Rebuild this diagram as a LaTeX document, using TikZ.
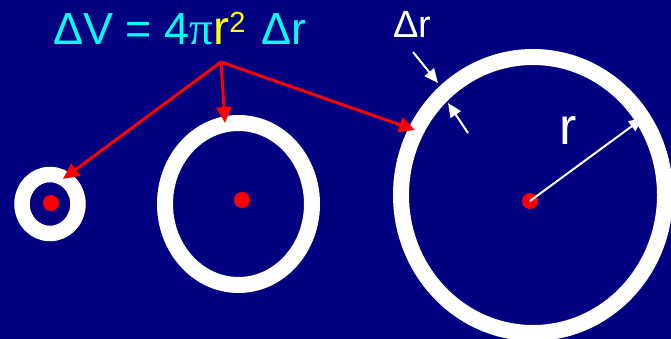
\documentclass[tikz,border=0pt]{standalone}
\usepackage{fontspec}
\setmainfont{Liberation Sans}
\newfontfamily\pifont{Liberation Serif}
\usetikzlibrary{arrows.meta}
\definecolor{bgnavy}{RGB}{0,0,128}
\definecolor{eqcyan}{RGB}{0,255,255}
\definecolor{eqyellow}{RGB}{255,255,0}
\definecolor{ptred}{RGB}{255,0,0}
\tikzset{
  ring/.style={draw=white, line width=16pt},
  centerdot/.style={fill=ptred},
  redarrow/.style={draw=ptred, line width=3pt, -{Triangle[length=16pt,width=15pt]}},
  whitearrow/.style={draw=white, line width=2pt, -{Triangle[length=14pt,width=12pt]}},
  lbl/.style={inner sep=0pt, text=white, anchor=base west},
}
\begin{document}
\begin{tikzpicture}[x=1pt,y=-1pt]
\useasboundingbox (0,0) rectangle (671,339);
\fill[bgnavy] (0,0) rectangle (671,339);
\clip (0,0) rectangle (671,339);
% rings
\draw[ring, line width=15.5pt] (50,204) ellipse [x radius=28, y radius=29.5];
\draw[ring] (238.5,204) ellipse [x radius=73.5, y radius=81];
\draw[ring] (533,195) ellipse [x radius=132, y radius=138];
% centre dots
\fill[centerdot] (51,203) circle (8);
\fill[centerdot] (242,200) circle (8);
\coordinate (c3) at (530,201);
\fill[centerdot] (c3) circle (8);
% equation
\node[lbl, text=eqcyan] (eq) at (53,45) {\fontsize{45}{50}\selectfont ΔV = 4{\pifont\fontsize{47}{50}\selectfont π}\textcolor{eqyellow}{\fontsize{48}{50}\selectfont r\raisebox{12pt}{\fontsize{29}{30}\selectfont 2}}\hspace{4pt} Δr};
% red arrows
\coordinate (apex) at (221,62);
\coordinate (t1) at (63,179);
\coordinate (t2) at (225,123);
\coordinate (t3) at (415,130);
\draw[redarrow] (apex) -- (t1);
\draw[redarrow] (apex) -- (t2);
\draw[redarrow] (apex) -- (t3);
% delta r label and arrows
\node[lbl] (dr) at (393,38) {\fontsize{38}{40}\selectfont Δr};
\coordinate (a1s) at (413,52);
\coordinate (a1t) at (438,83);
\coordinate (a2s) at (468,133);
\coordinate (a2t) at (448,103);
\draw[whitearrow] (a1s) -- (a1t);
\draw[whitearrow] (a2s) -- (a2t);
% radius
\coordinate (rt) at (643,118);
\draw[whitearrow] (c3) -- (rt);
\node[lbl] (rl) at (559,145) {\fontsize{52}{56}\selectfont r};
\end{tikzpicture}
\end{document}
